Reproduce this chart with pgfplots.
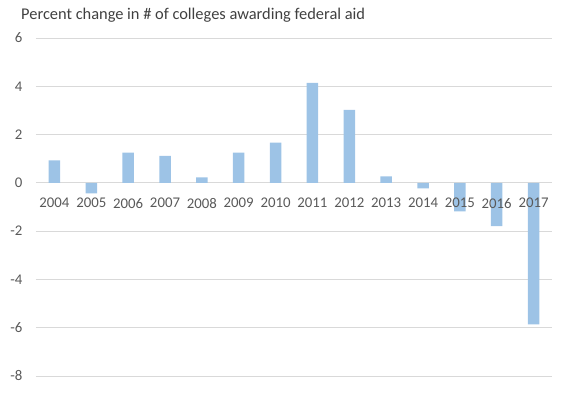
\documentclass[border=0pt]{standalone}
\usepackage{pgfplots}
\pgfplotsset{compat=1.18}
\usepackage{fontspec}
\setmainfont{Carlito}
\definecolor{barblue}{HTML}{9DC3E6}
\definecolor{gridgray}{HTML}{D9D9D9}
\definecolor{textgray}{HTML}{595959}
\definecolor{titlegray}{HTML}{404040}
\pgfplotsset{
  common/.style={
    at={(36pt,19pt)}, anchor=south west,
    scale only axis, width=516pt, height=338pt,
    ymin=-8, ymax=6,
    xmin=-0.5, xmax=13.5,
    axis line style={draw=none},
    major tick length=0pt,
    /pgf/number format/assume math mode=true,
    ticklabel style={font=\fontsize{14.8}{16}\selectfont, text=textgray},
    clip=false,
  }
}
\begin{document}
\begin{tikzpicture}
\useasboundingbox (0,0) rectangle (568pt,395pt);
\begin{axis}[
  common,
  ytick={-8,-6,...,6},
  xtick=\empty,
  ybar, bar width=11.5pt,
  ymajorgrids, grid style={gridgray, line width=0.8pt},
  yticklabel style={xshift=-10pt},
]
\addplot[fill=barblue, draw=none] coordinates {
(0,0.93) (1,-0.44) (2,1.25) (3,1.12) (4,0.23) (5,1.25) (6,1.67)
(7,4.14) (8,3.02) (9,0.27) (10,-0.23) (11,-1.18) (12,-1.79) (13,-5.86)};
\end{axis}
\begin{axis}[
  common,
  ytick=\empty,
  xtick={0,...,13},
  xticklabels={2004,2005,2006,2007,2008,2009,2010,2011,2012,2013,2014,2015,2016,2017},
  xticklabel style={yshift=181.5pt},
]
\addplot[draw=none] coordinates {(0,0) (13,0)};
\end{axis}
\node[anchor=base west, text=titlegray, font=\fontsize{16.4}{18}\selectfont, inner sep=0pt] at (21pt,375pt) {Percent change in \# of colleges awarding federal aid};
\end{tikzpicture}
\end{document}
